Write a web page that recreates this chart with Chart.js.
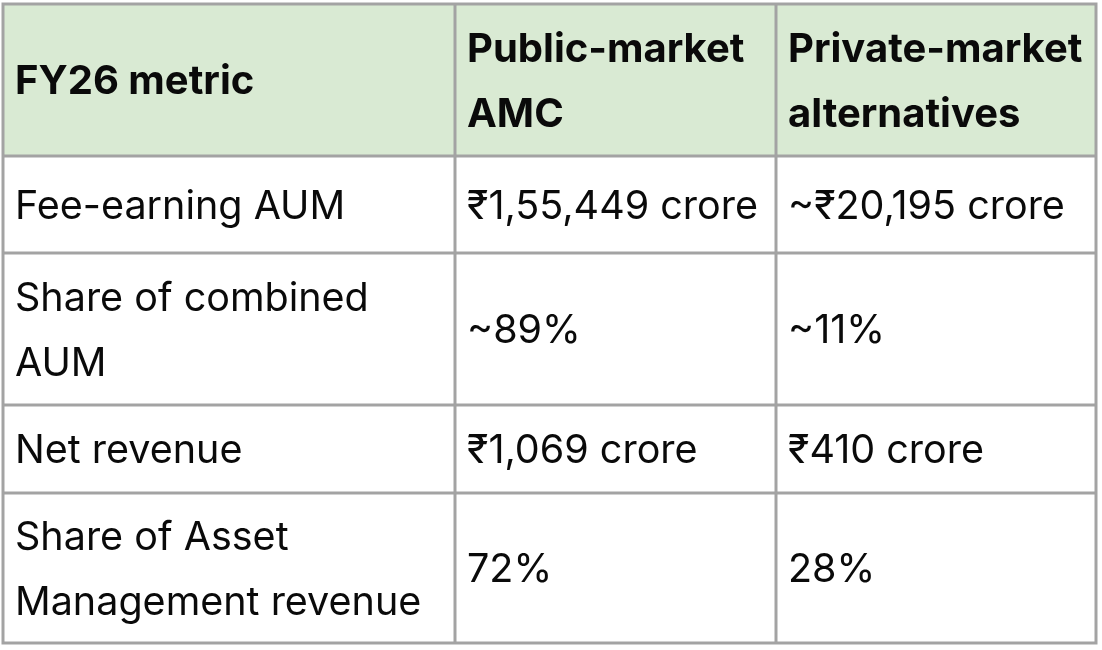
<!DOCTYPE html>
<html>
<head>
<meta charset="utf-8">
<script src="https://cdn.jsdelivr.net/npm/chart.js@4.4.1/dist/chart.umd.min.js"></script>
<style>
  html, body { margin: 0; padding: 0; background: #fff; }
  #tableChart { display: block; }
</style>
</head>
<body>
<canvas id="tableChart" width="1102" height="650"></canvas>
<script>
// table content
const headers = [['FY26 metric'], ['Public-market', 'AMC'], ['Private-market', 'alternatives']];
const metrics = [
    ['Fee-earning AUM'],
    ['Share of combined', 'AUM'],
    ['Net revenue'],
    ['Share of Asset', 'Management revenue']
];
const publicMarket = ['₹1,55,449 crore', '~89%', '₹1,069 crore', '72%'];
const privateMarket = ['~₹20,195 crore', '~11%', '₹410 crore', '28%'];

// layout (in canvas units, mapped through the hidden linear scales)
const colEdges = [3, 455, 776, 1096];
const rowEdges = [4, 156, 253, 405, 493, 643];
const cellPad = 12;
const bodySize = 39.5;
const headSize = 40;
const lineGap = 65;
const headerBg = '#d9ead3';
const gridColor = '#a3a3a3';
const textColor = '#0a0a0a';
const fontFamily = 'Inter, "Noto Sans", sans-serif';

const tablePlugin = {
    id: 'tablePlugin',
    afterDraw(chart) {
        const ctx = chart.ctx;
        const xs = chart.scales.x;
        const ys = chart.scales.y;
        const px = v => xs.getPixelForValue(v);
        const py = v => ys.getPixelForValue(v);

        ctx.save();
        // header background
        ctx.fillStyle = headerBg;
        ctx.fillRect(px(colEdges[0]), py(rowEdges[0]), px(colEdges[3]) - px(colEdges[0]), py(rowEdges[1]) - py(rowEdges[0]));

        const rows = [headers];
        metrics.forEach((m, i) => rows.push([m, [publicMarket[i]], [privateMarket[i]]]));

        ctx.fillStyle = textColor;
        ctx.textBaseline = 'alphabetic';
        ctx.textAlign = 'left';
        rows.forEach((row, r) => {
            const size = r === 0 ? headSize : bodySize;
            ctx.font = (r === 0 ? 'bold ' : '') + size + 'px ' + fontFamily;
            const top = py(rowEdges[r]);
            const bottom = py(rowEdges[r + 1]);
            const mid = (top + bottom) / 2;
            row.forEach((lines, c) => {
                const x = px(colEdges[c]) + cellPad;
                const n = lines.length;
                lines.forEach((line, k) => {
                    const cy = mid + (k - (n - 1) / 2) * lineGap;
                    ctx.fillText(line, x, cy + size * 0.36);
                });
            });
        });

        // grid lines
        ctx.strokeStyle = gridColor;
        ctx.lineWidth = 3;
        ctx.beginPath();
        colEdges.forEach(v => {
            ctx.moveTo(px(v), py(rowEdges[0]) - 1.5);
            ctx.lineTo(px(v), py(rowEdges[rowEdges.length - 1]) + 1.5);
        });
        rowEdges.forEach(v => {
            ctx.moveTo(px(colEdges[0]) - 1.5, py(v));
            ctx.lineTo(px(colEdges[colEdges.length - 1]) + 1.5, py(v));
        });
        ctx.stroke();
        ctx.restore();
    }
};

new Chart(document.getElementById('tableChart'), {
    type: 'scatter',
    data: { datasets: [{ data: [] }] },
    options: {
        responsive: false,
        animation: false,
        layout: { padding: 0 },
        plugins: { legend: { display: false }, tooltip: { enabled: false } },
        scales: {
            x: { type: 'linear', min: 0, max: 1102, display: false },
            y: { type: 'linear', min: 0, max: 650, reverse: true, display: false }
        }
    },
    plugins: [tablePlugin]
});
</script>
</body>
</html>
